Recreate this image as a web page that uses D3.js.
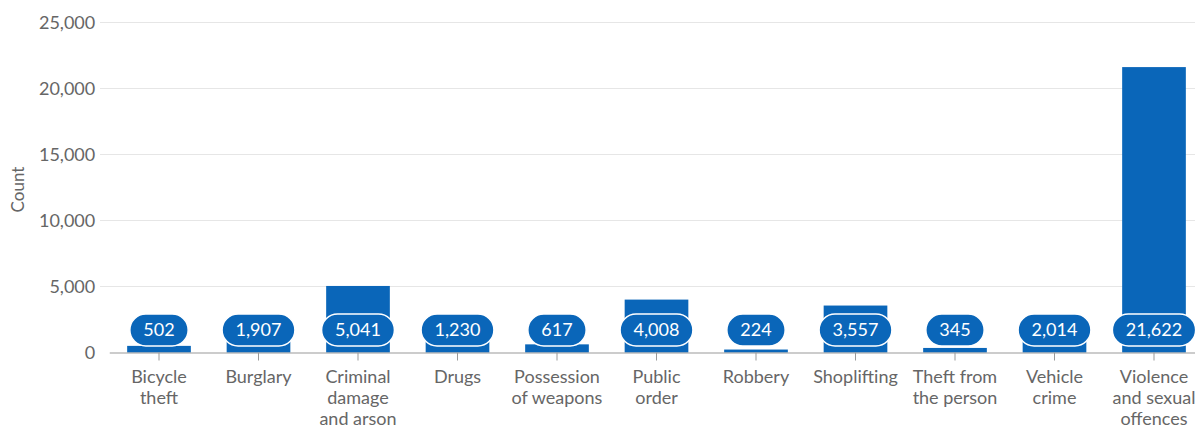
<!DOCTYPE html>
<html>
<head>
<meta charset="utf-8">
<script src="https://cdn.jsdelivr.net/npm/d3@7"></script>
<style>
  html, body { margin: 0; padding: 0; background: #fff; overflow: hidden; }
  svg { display: block; font-family: Lato, "Open Sans", sans-serif; }
</style>
</head>
<body>
<svg id="chart" width="1195" height="427"></svg>
<script>
// Recorded crime counts by offence type
const categories = [
  "Bicycle theft", "Burglary", "Criminal damage and arson", "Drugs",
  "Possession of weapons", "Public order", "Robbery", "Shoplifting",
  "Theft from the person", "Vehicle crime", "Violence and sexual offences"
];
const counts = [502, 1907, 5041, 1230, 617, 4008, 224, 3557, 345, 2014, 21622];
const yTicks = [0, 5000, 10000, 15000, 20000, 25000];
const yTitle = "Count";

const svg = d3.select("#chart");
const barColor = "#0a66b9";
const textColor = "#666666";
const fontSize = "18px";

const plot = { left: 109.25, right: 1203.75, top: 22.5, bottom: 352.5 };

const x = d3.scaleBand()
  .domain(categories)
  .range([plot.left, plot.right])
  .paddingInner(0.36)
  .paddingOuter(0.18);

const y = d3.scaleLinear()
  .domain([0, 25000])
  .range([plot.bottom, plot.top]);

const fmt = d3.format(",");

// gridlines
svg.append("g")
  .selectAll("line")
  .data(yTicks.filter(d => d > 0))
  .join("line")
  .attr("x1", 100).attr("x2", 1195)
  .attr("y1", d => y(d)).attr("y2", d => y(d))
  .attr("stroke", "#e6e6e6").attr("stroke-width", 1);

// y axis labels
const yAxis = svg.append("g")
  .attr("transform", `translate(${plot.left - 14},0)`)
  .call(d3.axisLeft(y).tickValues(yTicks).tickFormat(fmt).tickSize(0).tickPadding(0));
yAxis.select(".domain").remove();
yAxis.selectAll("text")
  .attr("fill", textColor)
  .style("font-size", fontSize)
  .style("font-family", "Lato, sans-serif");

// y axis title
svg.append("text")
  .attr("transform", `translate(24,${(plot.top + plot.bottom) / 2 + 2}) rotate(-90)`)
  .attr("text-anchor", "middle")
  .attr("fill", textColor)
  .style("font-size", "17px")
  .text(yTitle);

// bars
svg.append("g")
  .selectAll("rect")
  .data(categories.map((c, i) => ({ c, v: counts[i] })))
  .join("rect")
  .attr("x", d => x(d.c))
  .attr("width", x.bandwidth())
  .attr("y", d => y(d.v))
  .attr("height", d => y(0) - y(d.v))
  .attr("fill", barColor);

// x axis
const xAxis = svg.append("g")
  .attr("transform", `translate(0,${plot.bottom})`)
  .call(d3.axisBottom(x).tickSize(8).tickSizeOuter(0).tickPadding(10));
xAxis.select(".domain").attr("stroke", "#999999");
xAxis.selectAll(".tick line").attr("stroke", "#999999");
xAxis.selectAll("text")
  .attr("fill", textColor)
  .style("font-size", fontSize)
  .style("font-family", "Lato, sans-serif");

// wrap long category names onto several lines
function wrap(sel, maxWidth, lineHeight) {
  sel.each(function () {
    const t = d3.select(this);
    const words = t.text().split(/\s+/);
    const y0 = parseFloat(t.attr("y"));
    const dy = t.attr("dy");
    t.text(null);
    let line = [];
    let n = 0;
    let span = t.append("tspan").attr("x", 0).attr("y", y0).attr("dy", dy);
    for (const w of words) {
      line.push(w);
      span.text(line.join(" "));
      if (span.node().getComputedTextLength() > maxWidth && line.length > 1) {
        line.pop();
        span.text(line.join(" "));
        line = [w];
        n++;
        span = t.append("tspan").attr("x", 0).attr("y", y0 + n * lineHeight)
          .attr("dy", dy).text(w);
      }
    }
  });
}
xAxis.selectAll(".tick text").call(wrap, 92, 21);

// value labels in rounded boxes near the base
const labels = svg.append("g")
  .selectAll("g")
  .data(categories.map((c, i) => ({ c, v: counts[i] })))
  .join("g")
  .attr("transform", d => `translate(${x(d.c) + x.bandwidth() / 2},330)`);

labels.append("text")
  .attr("text-anchor", "middle")
  .attr("dy", "0.36em")
  .attr("fill", "#ffffff")
  .style("font-size", fontSize)
  .text(d => fmt(d.v));

labels.each(function () {
  const g = d3.select(this);
  const w = g.select("text").node().getComputedTextLength() + 27;
  g.insert("rect", "text")
    .attr("x", -w / 2).attr("y", -16)
    .attr("width", w).attr("height", 32)
    .attr("rx", 16).attr("ry", 16)
    .attr("fill", barColor)
    .attr("stroke", "#ffffff").attr("stroke-width", 1.5);
});
</script>
</body>
</html>
